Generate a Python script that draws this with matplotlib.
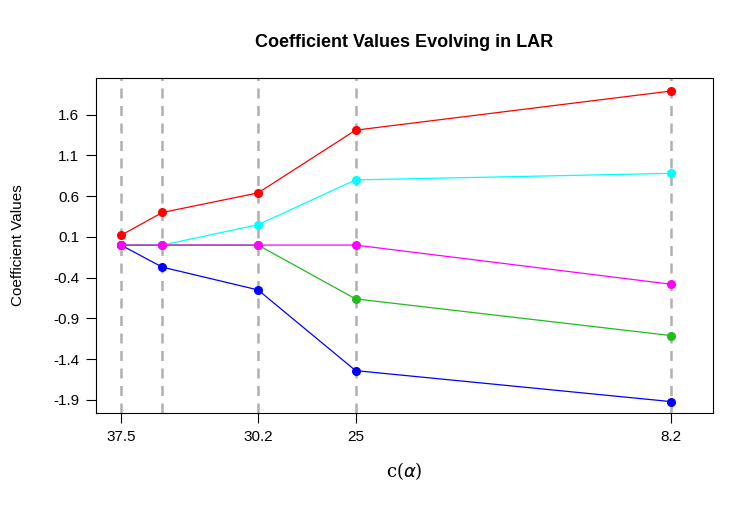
"""Coefficient paths along the LAR steps, plotted against c(alpha)."""
import matplotlib
matplotlib.use("Agg")
import matplotlib.pyplot as plt
import numpy as np

plt.rcParams["font.family"] = ["Liberation Sans", "DejaVu Sans"]

c_alpha = [37.5, 35.3, 30.2, 25.0, 8.2]
tick_vals = [37.5, 30.2, 25.0, 8.2]
tick_labels = ["37.5", "30.2", "25", "8.2"]

red = [0.12, 0.40, 0.64, 1.41, 1.89]
cyan = [0.0, 0.0, 0.25, 0.80, 0.88]
magenta = [0.0, 0.0, 0.0, 0.0, -0.48]
green = [0.0, 0.0, 0.0, -0.66, -1.11]
blue = [0.0, -0.27, -0.55, -1.54, -1.92]

series = [(red, "red"), (cyan, "cyan"), (green, "#22bb22"), (blue, "blue"), (magenta, "magenta")]

fig = plt.figure(figsize=(7.54, 5.12), dpi=100)
ax = fig.add_axes([96 / 754, 1 - 413 / 512, 617 / 754, 335 / 512])

for x in c_alpha:
    ax.axvline(x, color="#b0b0b0", ls=(0, (4, 3)), lw=1.8, zorder=1)

for vals, col in series:
    ax.plot(c_alpha, vals, color=col, lw=0.9, marker="o", ms=5.5, zorder=3)

ax.set_xlim(38.83, 5.96)
ax.set_ylim(-2.06, 2.05)
ax.set_xticks(tick_vals, tick_labels)
ax.set_yticks(np.arange(-1.9, 1.7, 0.5), [f"{v:.1f}" for v in np.arange(-1.9, 1.7, 0.5)])
ax.tick_params(labelsize=11, length=7, pad=5)
ax.set_ylabel("Coefficient Values", fontsize=11, labelpad=20)
ax.set_xlabel(r"c($\alpha$)", fontsize=13, family="DejaVu Serif", labelpad=12)
ax.set_title("Coefficient Values Evolving in LAR", fontsize=13, fontweight="bold", pad=22)

fig.savefig("out.png", dpi=100)
